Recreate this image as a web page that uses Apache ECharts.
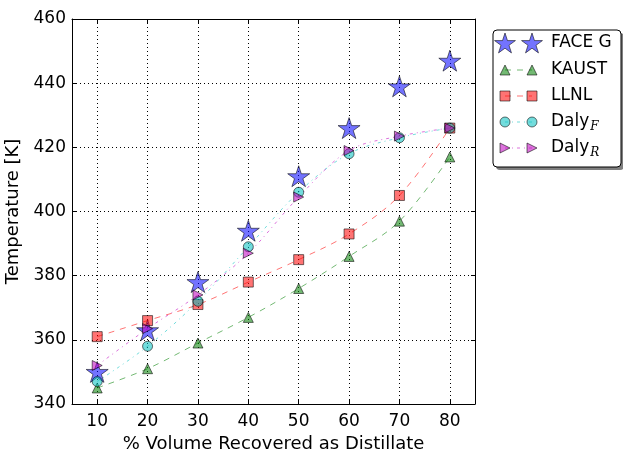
<!DOCTYPE html>
<html>
<head>
<meta charset="utf-8">
<script src="https://cdn.jsdelivr.net/npm/echarts@6/dist/echarts.min.js"></script>
<style>
  html, body { margin: 0; padding: 0; background: #fff; }
  #chart { width: 623px; height: 449px; }
</style>
</head>
<body>
<div id="chart"></div>
<script>
// Distillation curves: temperature vs. % volume recovered
const recovered = [10, 20, 30, 40, 50, 60, 70, 80];
const faceG  = [350, 363, 378, 394, 411, 426, 439, 447];
const kaust  = [345, 351, 359, 367, 376, 386, 397, 417];
const llnl   = [361, 366, 371, 378, 385, 393, 405, 426];
const dalyF  = [347, 358, 372, 389, 406, 418, 423, 426];
const dalyR  = [352, 363.5, 374, 387, 404.5, 419, 423.5, 426];
const yTicks = [340, 360, 380, 400, 420, 440, 460];

const FONT = 'DejaVu Sans';

// five-pointed star outline (inner ratio 0.38)
function starPoints(cx, cy, r) {
  const pts = [];
  for (let k = 0; k < 10; k++) {
    const rr = k % 2 === 0 ? r : r * 0.382;
    const a = (-90 + k * 36) * Math.PI / 180;
    pts.push([cx + rr * Math.cos(a), cy + rr * Math.sin(a)]);
  }
  return pts;
}
const starPath = 'path://' + starPoints(0, 0, 100)
  .map((p, i) => (i ? 'L' : 'M') + p[0].toFixed(2) + ',' + p[1].toFixed(2)).join(' ') + ' Z';

const seriesDefs = [
  { name: 'FACE G', data: faceG, color: '#0000ff', symbol: starPath, size: 22, rotate: 0, line: null },
  { name: 'KAUST',  data: kaust, color: '#008000', symbol: 'triangle', size: 10, rotate: 0, line: [6, 6] },
  { name: 'LLNL',   data: llnl,  color: '#ff0000', symbol: 'rect', size: 10, rotate: 0, line: [6, 6] },
  { name: 'Daly_F', data: dalyF, color: '#00bfbf', symbol: 'circle', size: 10, rotate: 0, line: [3, 4, 1, 4] },
  { name: 'Daly_R', data: dalyR, color: '#bf00bf', symbol: 'triangle', size: 10, rotate: -90, line: [3, 4, 1, 4] }
];

const MARK_OPACITY = 0.55;

const series = seriesDefs.map(d => ({
  name: d.name,
  type: 'line',
  data: recovered.map((x, i) => [x, d.data[i]]),
  symbol: d.symbol,
  symbolSize: d.size,
  symbolRotate: d.rotate,
  symbolKeepAspect: true,
  showSymbol: true,
  smooth: 0.35,
  animation: false,
  itemStyle: { color: d.color, borderColor: '#000', borderWidth: 1, opacity: MARK_OPACITY },
  lineStyle: d.line
    ? { color: d.color, width: 1, type: d.line, opacity: 0.55 }
    : { width: 0, opacity: 0 },
  emphasis: { disabled: true }
}));

// legend drawn as graphic elements: two markers joined by the series' line style
const legendLabels = {
  'FACE G': 'FACE G',
  'KAUST': 'KAUST',
  'LLNL': 'LLNL',
  'Daly_F': '{n|Daly}{s|F}',
  'Daly_R': '{n|Daly}{s|R}'
};
const legendTop = 30, legendLeft = 493, legendW = 128, legendH = 137;
const rowY = [43, 70, 96, 122, 148];
const mk1 = 505, mk2 = 532, textX = 551;

function markerShape(d, cx, cy) {
  const st = { fill: d.color, stroke: '#000', lineWidth: 1, opacity: MARK_OPACITY };
  const h = d.size / 2;
  if (d.symbol === starPath) {
    return { type: 'polygon', shape: { points: starPoints(cx, cy + 1, 11) }, style: st, z: 102 };
  }
  if (d.symbol === 'rect') {
    return { type: 'rect', shape: { x: cx - h, y: cy - h, width: d.size, height: d.size }, style: st, z: 102 };
  }
  if (d.symbol === 'circle') {
    return { type: 'circle', shape: { cx: cx, cy: cy, r: h }, style: st, z: 102 };
  }
  if (d.rotate === -90) {
    return { type: 'polygon', shape: { points: [[cx - h, cy - h], [cx + h, cy], [cx - h, cy + h]] }, style: st, z: 102 };
  }
  return { type: 'polygon', shape: { points: [[cx, cy - h], [cx + h, cy + h], [cx - h, cy + h]] }, style: st, z: 102 };
}

const legendGraphics = [
  { type: 'rect', shape: { x: legendLeft + 3, y: legendTop + 3, width: legendW, height: legendH, r: 4 },
    style: { fill: '#7f7f7f' }, z: 99 },
  { type: 'rect', shape: { x: legendLeft, y: legendTop, width: legendW, height: legendH, r: 4 },
    style: { fill: '#fff', stroke: '#000', lineWidth: 1 }, z: 100 }
];
seriesDefs.forEach((d, i) => {
  const cy = rowY[i];
  if (d.line) {
    legendGraphics.push({ type: 'line', shape: { x1: mk1, y1: cy, x2: mk2, y2: cy },
      style: { stroke: d.color, lineWidth: 1, lineDash: d.line, opacity: 0.55 }, z: 101 });
  }
  legendGraphics.push(markerShape(d, mk1, cy));
  legendGraphics.push(markerShape(d, mk2, cy));
  legendGraphics.push({
    type: 'text', x: textX, y: cy, z: 103,
    style: {
      text: legendLabels[d.name],
      fontFamily: FONT, fontSize: 17, fill: '#000',
      verticalAlign: 'middle', align: 'left',
      rich: {
        n: { fontFamily: FONT, fontSize: 17, lineHeight: 24 },
        s: { fontFamily: 'DejaVu Serif', fontStyle: 'italic', fontSize: 12, lineHeight: 24, padding: [10, 0, 0, 1] }
      }
    }
  });
});

const chart = echarts.init(document.getElementById('chart'), null, { renderer: 'canvas' });

const axisLine = { show: true, lineStyle: { color: '#000', width: 1 } };
const tickIn = { show: true, inside: true, length: 4, lineStyle: { color: '#000', width: 1 } };
const gridDots = { show: true, lineStyle: { color: '#000', width: 1, type: [1, 3] } };

chart.setOption({
  animation: false,
  backgroundColor: '#fff',
  grid: { left: 72, right: 148, top: 19, bottom: 45, containLabel: false, outerBoundsMode: 'none' },
  xAxis: [
    {
      type: 'value', min: 5, max: 85,
      name: '% Volume Recovered as Distillate', nameLocation: 'middle', nameGap: 27,
      nameTextStyle: { fontFamily: FONT, fontSize: 18, color: '#000' },
      axisLine: axisLine,
      axisTick: Object.assign({ customValues: recovered }, tickIn),
      axisLabel: { customValues: recovered, fontFamily: FONT, fontSize: 17, color: '#000', margin: 9 },
      splitLine: gridDots
    },
    {
      type: 'value', min: 5, max: 85, position: 'top',
      axisLine: axisLine,
      axisTick: Object.assign({ customValues: recovered }, tickIn),
      axisLabel: { show: false },
      splitLine: { show: false }
    }
  ],
  yAxis: [
    {
      type: 'value', min: yTicks[0], max: yTicks[yTicks.length - 1], interval: 20,
      name: 'Temperature [K]', nameLocation: 'middle', nameGap: 37,
      nameTextStyle: { fontFamily: FONT, fontSize: 18, color: '#000' },
      axisLine: axisLine, axisTick: tickIn,
      axisLabel: { fontFamily: FONT, fontSize: 17, color: '#000', margin: 6 },
      splitLine: gridDots
    },
    {
      type: 'value', min: yTicks[0], max: yTicks[yTicks.length - 1], interval: 20, position: 'right',
      axisLine: axisLine, axisTick: tickIn,
      axisLabel: { show: false }, splitLine: { show: false }
    }
  ],
  series: series,
  graphic: legendGraphics
});
</script>
</body>
</html>
